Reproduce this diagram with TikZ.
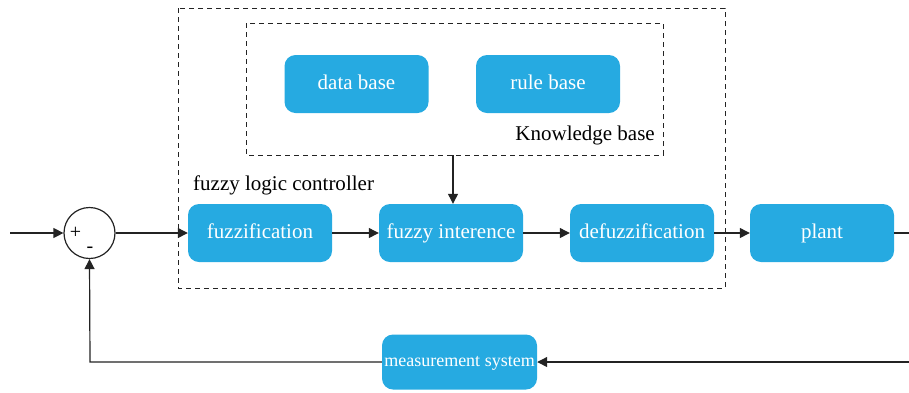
\documentclass[tikz,border=0pt]{standalone}
\usepackage{fontspec}
\setmainfont{Liberation Serif}
\usetikzlibrary{arrows.meta}
\definecolor{boxblue}{RGB}{38,170,225}
\definecolor{linegray}{RGB}{35,35,35}
\begin{document}
\begin{tikzpicture}[x=1pt,y=-1pt,
  blk/.style={fill=boxblue,draw=none,rounded corners=11pt,text=white,
    minimum width=144pt,minimum height=58pt,inner sep=0pt,
    text height=14pt,text depth=4pt,
    font=\rmfamily\fontsize{21}{24}\selectfont},
  frame/.style={draw=linegray,line width=1pt,dash pattern=on 5pt off 4pt},
  conn/.style={draw=linegray,line width=1.2pt},
  arr/.style={conn,-{Triangle[length=10pt,width=10pt]}},
  lbl/.style={font=\rmfamily\fontsize{21}{24}\selectfont,text=black,inner sep=0pt}]
\useasboundingbox (0,0) rectangle (909,392);
% frames
\draw[frame] (178,8) rectangle (725,288);
\draw[frame] (246,23) rectangle (663,155);
\coordinate (kbbot) at (453,155);
% knowledge base blocks
\node[blk] (data) at (356.5,84) {data base};
\node[blk] (rule) at (548,84) {rule base};
\node[lbl,anchor=base east] (kb) at (655,140) {Knowledge base};
\node[lbl,anchor=base west] (flc) at (193,190) {fuzzy logic controller};
% main chain
\node[blk] (fuz) at (260,233) {fuzzification};
\node[blk] (inf) at (451,233) {fuzzy interence};
\node[blk] (def) at (642,233) {defuzzification};
\node[blk] (plant) at (822,233) {plant};
\node[blk,minimum width=155pt,minimum height=55pt,text height=12pt,text depth=3pt,font=\rmfamily\fontsize{18}{20}\selectfont] (meas) at (459.5,362) {measurement system};
% summing junction
\node[circle,draw=linegray,line width=1.2pt,minimum size=51pt,inner sep=0pt] (sum) at (89.5,233) {};
\node[font=\rmfamily\fontsize{20}{22}\selectfont,inner sep=0pt] (plus) at (75.5,233) {+};
\node[font=\rmfamily\fontsize{20}{22}\selectfont,inner sep=0pt] (minus) at (90,250) {-};
% connectors
\coordinate (in) at (10,233);
\coordinate (out) at (909,233);
\coordinate (fbin) at (909,362);
\coordinate (fbcorner) at (90,362);
\draw[arr] (in) -- (sum.west);
\draw[arr] (sum.east) -- (fuz.west);
\draw[arr] (fuz.east) -- (inf.west);
\draw[arr] (inf.east) -- (def.west);
\draw[arr] (def.east) -- (plant.west);
\draw[conn] (plant.east) -- (out);
\draw[arr] (kbbot) -- (kbbot |- inf.north);
\draw[arr] (fbin) -- (meas.east);
\draw[arr] (meas.west) -- (fbcorner) -- (sum.south);
\end{tikzpicture}
\end{document}
